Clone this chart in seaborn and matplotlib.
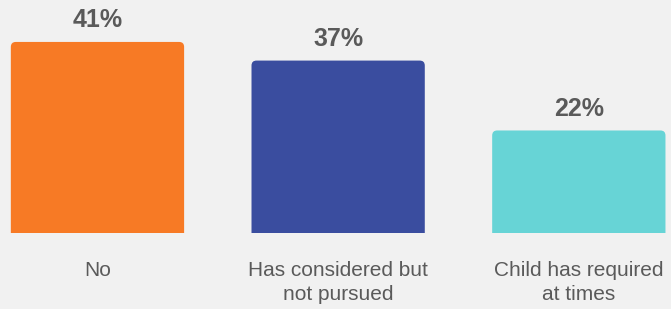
import matplotlib
matplotlib.use("Agg")
import matplotlib.pyplot as plt
import seaborn as sns
import pandas as pd
from matplotlib.patches import FancyBboxPatch

categories = ["No", "Has considered but\nnot pursued", "Child has required\nat times"]
values = [41, 37, 22]
labels = ["41%", "37%", "22%"]
colors = ["#F77A25", "#3A4D9F", "#67D4D6"]

sns.set_theme(style="white")
plt.rcParams["font.family"] = ["Liberation Sans", "DejaVu Sans"]

BG = "#F1F1F1"
TXT = "#5A5A5A"

fig = plt.figure(figsize=(6.71, 3.09), dpi=100, facecolor=BG)
ax = fig.add_axes([0, 0.246, 1, 0.754])
ax.set_facecolor(BG)

df = pd.DataFrame({"cat": categories, "val": values})
sns.barplot(data=df, x="cat", y="val", hue="cat", palette=colors, width=0.72,
            legend=False, ax=ax, saturation=1)

ax.set_xlim(-0.405, 2.383)
ax.set_ylim(0, 50)

# rounded top corners
x_px = 240.7
y_px = 233 / 50
for p in list(ax.patches):
    x, w, h = p.get_x(), p.get_width(), p.get_height()
    fc = p.get_facecolor()
    p.remove()
    r = 5 / x_px
    fb = FancyBboxPatch((x, -3), w, h + 3,
                        boxstyle=f"round,pad=0,rounding_size={r}",
                        mutation_aspect=x_px / y_px,
                        facecolor=fc, edgecolor="none")
    ax.add_patch(fb)

for i, (v, lab) in enumerate(zip(values, labels)):
    ax.annotate(lab, (i, v), xytext=(0, 7), textcoords="offset points",
                ha="center", va="bottom", fontsize=18, fontweight="bold", color=TXT)

ax.set_xlabel("")
ax.set_ylabel("")
ax.set_yticks([])
ax.tick_params(axis="x", length=0, pad=20, labelsize=15, labelcolor=TXT)
for t in ax.get_xticklabels():
    t.set_linespacing(1.35)
for s in ax.spines.values():
    s.set_visible(False)

fig.savefig("out.png", dpi=100, facecolor=BG)
